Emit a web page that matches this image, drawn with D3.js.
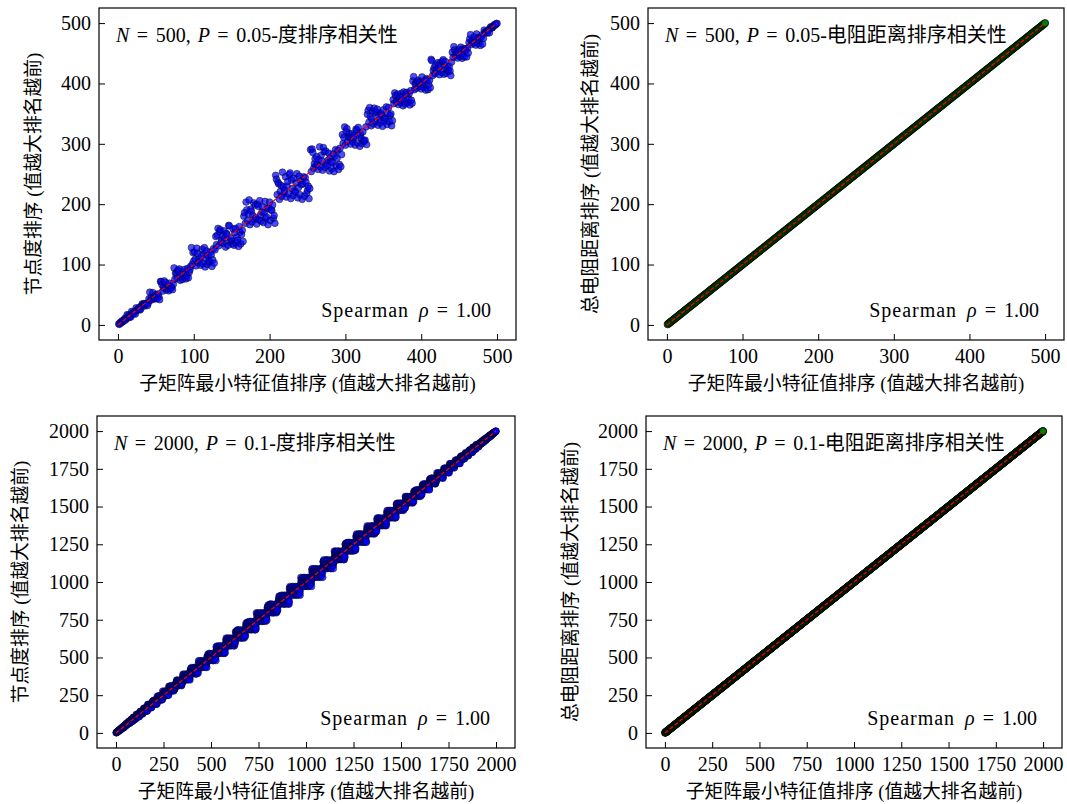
<!DOCTYPE html>
<html><head><meta charset="utf-8">
<script src="https://cdn.jsdelivr.net/npm/d3@7"></script>
<style>
body{margin:0;background:#fff}
svg{display:block}
text{font-family:"Liberation Serif","Noto Sans CJK SC",serif;fill:#000}
</style>
</head><body>
<svg id="c" width="1067" height="804"></svg>
<script>
// ---------------- DATA ----------------
// x: rank by smallest eigenvalue of sub-matrix (1 = largest)
const eigRank500 = d3.range(1, 501);
const eigRank2000 = d3.range(1, 2001);

const degBlocks500 = [2,2,3,4,6,6,7,10,15,18,22,33,37,42,46,42,33,34,26,24,28,22,20,8,5,3,2];
// relative position of each node's degree rank inside its class (0..z = bottom..top)
const degPos500 = [
 "k3z8q0m5w2ry7t1e9u4i6o0p3a8s5d2f7g1h9j4l6x0c3v8b5n",
 "h7qe2xwm0cz9t4bk1r8fd5ny3jl6spv0ag2o9ui4cx7mt1z5qbr",
 "e2yo8fa3kw6nz0gt5lc9rm1dx7vh4ju2ps8bi6qf0mk3zy9ea5t",
 "3nu7gb1xo5kr9ch2wl6fz0mj4dv8sa1tq7ye5ip3hx9bn0ow6lk",
 "s9d2vq6mk0ai4zg8ct3hn7wy1pe5rb9lx2fu6oj0kt4sm8ch1ev",
 "0wr5bi8la3hz7nf2ys6tc9gq1ke4dp0mv8ju3ax7ol5gz2rw9in",
 "f4cn8gk2vt6yj0me5qa9bz3ls7xh1dr4wo8pu2ic6nk0tf9ey3m",
 "x8jm1ae5uo9cr3gl7tk0wb4qv8hs2zd6ny1fi5mp9ka3xg7oj0t",
 "q1ep6zw0bh4nc8sf2rl7vy3mu5dg9ka0ti4xo8jc2hq6wn1bs5r",
 "n5tg9kx3ef7qb1zm6ho0pw4lr8ai2jv5cs9dy3ue7gk1tn6mb0x",
 "d0lz4rc8fp2wi6ks1ej9yu3nh7ao5tq0gb4mx8vw2cl6pf1zr5h"
].join("");

const degBlocks2000 = [1,1,2,2,2,3,3,4, 5,6,7,8,9,10,12,14,16,18, 20,22,24,27,29,32,35,38,40,43,
 45,48,50,52,54,56,57,58,59,58, 60, 58,59,58,57,56,54,52,50,48,45,
 43,40,38,35,32,29,27,24,22,20, 18,16,14,12,10,9,8,7,6,5, 4,3,3,2,2,2,1,1];
const degPos2000 = [
 "83029174651839207564920184635730482916756190374825",
 "27491058367461928053058273614949160825371837264059",
 "50638192742938475016671520394882049573613592816470",
 "91873620454072159386184963052773605281940625741983",
 "39164587208156037249502781493624931760587148290365",
 "62481950370395842761946327180558173049622904658173",
 "15706328946820415397319658074207529638418361027459",
 "48159703263247069581758032916496314852075073816942",
 "06372481599518372604240861597341869207356259473018",
 "74920136851763854920893146705230485716290917352846",
 "23567841905094216837627390841585924031764830169527",
 "90145362783681709452045718263913768592407162594083",
 "58279013468432591760490823657160147823953597028614",
 "13698427052705368914761205498329471305688045716239",
 "67480539124913072586317462985058602417931726390485",
 "02836195477586940213504938172691357064824391852670",
 "85063714291249683057983570216406284593715760413928",
 "39712458606830157492256184930774823960159034285716",
 "41958306720372964185871605429337096215482658197043",
 "76304925189154728306039267584152618409376415093782",
 "28475160934687013259612593840785903726140973624851",
 "95028673142036495718485701629313469850277289501436",
 "13640598277901842365326847195060217584394530867192",
 "57182936403578260914904312578628740396518162947305",
 "09263714858245139670157936402896572140833801592674",
 "60539847121360792548768405293143928671055947316820",
 "34816259075729481036291673840507381529641275084396",
 "82397104560814367295537094186269154830279628470153",
 "46702583916493502817802561974332407965182396158047",
 "17924830653951746208064128735974860315926054293781",
 "59140376288106527943439287501620597643810713862594",
 "23658914704628193750715804269386132590474981507326",
 "90471625831473806925280453916753719408267248635910",
 "75863240196950271384963512780401245867933560918472",
 "01289473562384695071507186342947903126588637249105",
 "34507961827819350426142739856092687410351095384267",
 "68735012940562718943836901427538572061495412067839",
 "83012796455297034618691045273814859673202784390516",
 "46298351079035482761324876019576031485926359712048",
 "19574608233671849502058623197429360751849820156473",
 "52841937607408126359475390861265498302170173648925"
].join("");

// resistance-distance ranks coincide with the eigenvalue ranks (all points on y = x)
const resRank500 = eigRank500.slice();
const resRank2000 = eigRank2000.slice();

const ticks500 = [0, 100, 200, 300, 400, 500];
const ticks2000 = [0, 250, 500, 750, 1000, 1250, 1500, 1750, 2000];
const titleN = ["500", "500", "2000", "2000"];
const titleP = ["0.05", "0.05", "0.1", "0.1"];
const titleTail = ["度排序相关性", "电阻距离排序相关性", "度排序相关性", "电阻距离排序相关性"];
const yLabels = ["节点度排序 (值越大排名越前)", "总电阻距离排序 (值越大排名越前)", "节点度排序 (值越大排名越前)", "总电阻距离排序 (值越大排名越前)"];
const xLabel = "子矩阵最小特征值排序 (值越大排名越前)";
const rhoText = "1.00";

// ---------------- BUILD ----------------
const ALPH = "0123456789abcdefghijklmnopqrstuvwxyz";
function ranksFromBlocks(widths, pos, levels) {
  const out = []; let s = 0;
  widths.forEach(w => {
    for (let j = 0; j < w; j++) {
      const ch = pos[s + j];
      const k = ch === undefined ? (levels - 1) / 2 : ALPH.indexOf(ch);
      out.push(s + 1 + (k / (levels - 1)) * (w - 1));
    }
    s += w;
  });
  return out;
}
const degRank500 = ranksFromBlocks(degBlocks500, degPos500, 36);
const degRank2000 = ranksFromBlocks(degBlocks2000, degPos2000, 10);

const panels = [
  {box:[99,516,8,340], n:500, ticks:ticks500, xs:eigRank500, ys:degRank500, fill:"#0000ff", ylx:33},
  {box:[648,1064,8,340], n:500, ticks:ticks500, xs:eigRank500, ys:resRank500, fill:"#008000", ylx:590},
  {box:[97,515,416,748], n:2000, ticks:ticks2000, xs:eigRank2000, ys:degRank2000, fill:"#0000ff", ylx:20},
  {box:[646,1062,416,748], n:2000, ticks:ticks2000, xs:eigRank2000, ys:resRank2000, fill:"#008000", ylx:570}
];

const svg = d3.select("#c");
const FS = 20;

panels.forEach((p, i) => {
  const [L, R, T, B] = p.box;
  const pad = p.n * 0.05;
  const x = d3.scaleLinear().domain([-pad, p.n + pad]).range([L, R]);
  const y = d3.scaleLinear().domain([-pad, p.n + pad]).range([B, T]);
  const g = svg.append("g");
  const green = p.fill === "#008000";

  // points
  g.append("g").selectAll("circle").data(d3.zip(p.xs, p.ys)).join("circle")
    .attr("cx", d => x(d[0])).attr("cy", d => y(d[1])).attr("r", green ? 3.6 : 3.4)
    .attr("fill", p.fill).attr("fill-opacity", 0.7)
    .attr("stroke", "#000").attr("stroke-opacity", green ? 0.9 : 0.75).attr("stroke-width", green ? 0.8 : 0.6);

  // y = x reference
  g.append("line")
    .attr("x1", x(0)).attr("y1", y(0)).attr("x2", x(p.n)).attr("y2", y(p.n))
    .attr("stroke", "#ff0000").attr("stroke-width", 1.2).attr("stroke-dasharray", "4,2.2");

  // axes
  const fmt = d3.format("d");
  const ax = g.append("g").attr("transform", `translate(0,${B})`)
    .call(d3.axisBottom(x).tickValues(p.ticks).tickFormat(fmt).tickSizeInner(-6).tickSizeOuter(0).tickPadding(9));
  const ay = g.append("g").attr("transform", `translate(${L},0)`)
    .call(d3.axisLeft(y).tickValues(p.ticks).tickFormat(fmt).tickSizeInner(-6).tickSizeOuter(0).tickPadding(8));
  [ax, ay].forEach(a => {
    a.select(".domain").remove();
    a.selectAll(".tick line").attr("stroke", "#000").attr("stroke-width", 1);
    a.selectAll(".tick text").attr("font-size", FS).attr("font-family", "Liberation Serif").attr("fill", "#000");
  });

  // frame
  g.append("rect").attr("x", L).attr("y", T).attr("width", R - L).attr("height", B - T)
    .attr("fill", "none").attr("stroke", "#000").attr("stroke-width", 1.2);

  // title inside
  const t = g.append("text").attr("x", L + 17).attr("y", T + 34).attr("font-size", FS);
  t.append("tspan").attr("font-style", "italic").text("N");
  t.append("tspan").attr("dx", 7.5).text("=");
  t.append("tspan").attr("dx", 7.5).text(titleN[i] + ",");
  t.append("tspan").attr("dx", 7).attr("font-style", "italic").text("P");
  t.append("tspan").attr("dx", 7.5).text("=");
  t.append("tspan").attr("dx", 7.5).text(titleP[i] + "-" + titleTail[i]);

  // spearman
  const s = g.append("text").attr("x", R - 25).attr("y", B - 23).attr("font-size", FS).attr("text-anchor", "end");
  s.append("tspan").attr("letter-spacing", 1).text("Spearman");
  s.append("tspan").attr("dx", 10).attr("font-style", "italic").text("ρ");
  s.append("tspan").attr("dx", 8).text("=");
  s.append("tspan").attr("dx", 8).text(rhoText);

  // axis labels
  g.append("text").attr("x", (L + R) / 2).attr("y", B + 50).attr("text-anchor", "middle")
    .attr("font-size", 18.8).text(xLabel);
  g.append("text").attr("transform", `translate(${p.ylx},${(T + B) / 2}) rotate(-90)`)
    .attr("text-anchor", "middle").attr("dominant-baseline", "central")
    .attr("font-size", 18.8).text(yLabels[i]);
});
</script>
</body></html>
